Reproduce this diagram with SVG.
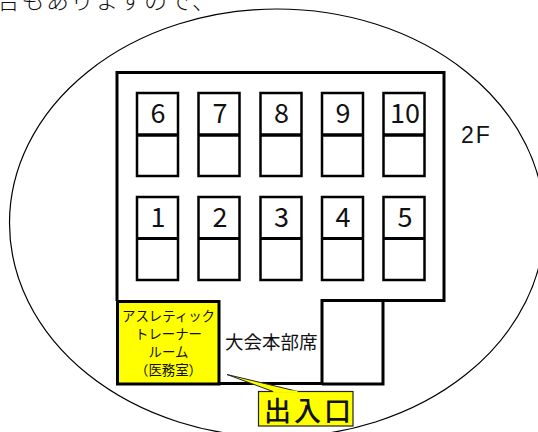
<svg xmlns="http://www.w3.org/2000/svg" width="538" height="432" viewBox="0 0 538 432">
<style>
.j{font-family:"Noto Sans CJK JP","Liberation Sans",sans-serif;fill:#111}
.n{font-family:"Noto Sans CJK JP","Liberation Sans",sans-serif;font-size:27px;fill:#111;text-anchor:middle}
.b{fill:#fff;stroke:#000;stroke-width:2.5}
.d{stroke:#000;stroke-width:3.500;fill:none}
.e{stroke:#000;stroke-width:2.800;fill:none}
.w{stroke:#000;stroke-width:3;fill:none}
.y{font-size:13.400px;text-anchor:middle}
</style>
<rect width="538" height="432" fill="#fff"/>
<text class="j" x="-3" y="9" font-size="23" font-weight="300" letter-spacing="1.500">合もありますので、</text>
<ellipse cx="277" cy="223" rx="267.500" ry="214" fill="#fff" stroke="#000" stroke-width="1.200"/>
<g id="hall"><path class="w" d="M117 301V72.500H444V300.500H322V383.500H218"/><path class="w" d="M383 301V384H322"/></g>
<g id="stalls">
<g id="s6"><rect class="b" x="137" y="93" width="41" height="83"/><path class="d" d="M137 135H178"/><text class="n" x="158" y="122.500">6</text></g>
<g id="s7"><rect class="b" x="198.500" y="93" width="41" height="83"/><path class="d" d="M198.500 135H239.500"/><text class="n" x="220" y="122.500">7</text></g>
<g id="s8"><rect class="b" x="260.500" y="93" width="41" height="83"/><path class="d" d="M260.500 135H301.500"/><text class="n" x="281.500" y="122.500">8</text></g>
<g id="s9"><rect class="b" x="322" y="93" width="41" height="83"/><path class="d" d="M322 135H363"/><text class="n" x="343" y="122.500">9</text></g>
<g id="s10"><rect class="b" x="383.500" y="93" width="41" height="83"/><path class="d" d="M383.500 135H424.500"/><text class="n" x="405" y="122.500">10</text></g>
<g id="s1"><rect class="b" x="137" y="197" width="41" height="83"/><path class="e" d="M137 238.500H178"/><text class="n" x="158" y="226.500">1</text></g>
<g id="s2"><rect class="b" x="198.500" y="197" width="41" height="83"/><path class="e" d="M198.500 238.500H239.500"/><text class="n" x="220" y="226.500">2</text></g>
<g id="s3"><rect class="b" x="260.500" y="197" width="41" height="83"/><path class="e" d="M260.500 238.500H301.500"/><text class="n" x="281.500" y="226.500">3</text></g>
<g id="s4"><rect class="b" x="322" y="197" width="41" height="83"/><path class="e" d="M322 238.500H363"/><text class="n" x="343" y="226.500">4</text></g>
<g id="s5"><rect class="b" x="383.500" y="197" width="41" height="83"/><path class="e" d="M383.500 238.500H424.500"/><text class="n" x="405" y="226.500">5</text></g>
</g>
<text x="461" y="143" font-family="Liberation Sans, sans-serif" font-size="23" fill="#111" letter-spacing="2">2F</text>
<g id="medical"><rect x="117.500" y="301.500" width="101.500" height="82.500" fill="#ff0" stroke="#000" stroke-width="3"/>
<text class="j y" x="168.500" y="321">アスレティック</text>
<text class="j y" x="168.500" y="339">トレーナー</text>
<text class="j y" x="168.500" y="357">ルーム</text>
<text class="j y" x="168.500" y="375">（医務室）</text></g>
<text id="hq" class="j" x="225" y="349" font-size="18.500">大会本部席</text>
<g id="entrance"><rect x="258.500" y="391.500" width="94.500" height="34.500" fill="#ff0" stroke="#222" stroke-width="1.200"/>
<path d="M273 391.500L227 374.500L298 391.500" fill="#ff0" stroke="#222" stroke-width="1"/>
<path d="M273.500 390.500H297.500V392.500H273.500Z" fill="#ff0"/>
<text class="j" x="264" y="421" font-size="27" font-weight="500" letter-spacing="3">出入口</text></g>
</svg>
